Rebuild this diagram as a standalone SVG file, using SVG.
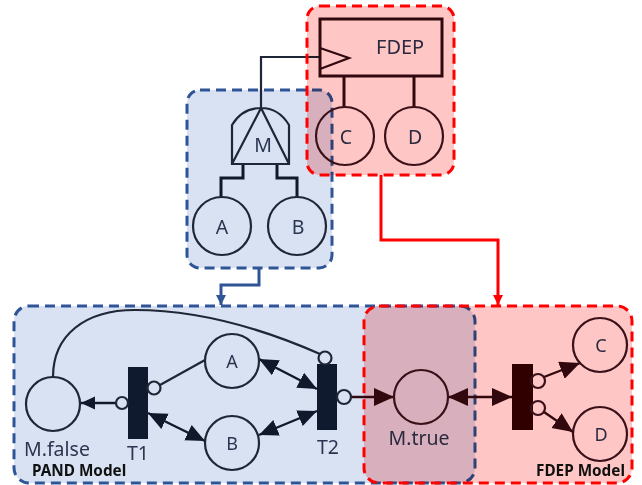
<svg xmlns="http://www.w3.org/2000/svg" width="642" height="485" viewBox="0 0 642 485">
<style>
text{font-family:"Noto Sans","Open Sans","DejaVu Sans",sans-serif;fill:#2b3550;font-size:18px}
.c{text-anchor:middle}
.big{font-size:19.5px}
.bold{font-weight:700;font-size:15.3px;fill:#101010}
.n{fill:none;stroke:#1f2636;stroke-width:2.2}
.r{fill:none;stroke:#3a1520;stroke-width:2.2}
.th{fill:none;stroke:#10192b;stroke-width:3;stroke-linejoin:miter}
.rth{fill:none;stroke:#300a10;stroke-width:3;stroke-linejoin:miter}
.rthin{fill:none;stroke:#300a10;stroke-width:2.2}
.bar{fill:#0f1a2e}
.bz{fill:#d8e2f2;stroke:#2f5597;stroke-width:3;stroke-dasharray:10 6}
.rz{fill:#ffc6c6;stroke:none;mix-blend-mode:multiply}
.rs{fill:none;stroke:#ff0000;stroke-width:3;stroke-dasharray:10 6}
.a{fill:none;stroke:#10192b;stroke-width:2.4}
.ra{fill:none;stroke:#300a10;stroke-width:2.4}
.abb{marker-start:url(#h);marker-end:url(#h)}
.rab{marker-end:url(#rd)}
.rabb{marker-start:url(#rd);marker-end:url(#rd)}
</style>
<defs>
<marker id="h" markerUnits="userSpaceOnUse" markerWidth="22" markerHeight="20" refX="19" refY="8.5" orient="auto-start-reverse"><path d="M0 0L19 8.5L0 17Z" fill="#10192b"/></marker>
<marker id="rd" markerUnits="userSpaceOnUse" markerWidth="22" markerHeight="20" refX="20" refY="9" orient="auto-start-reverse"><path d="M0 0L20 9L0 18Z" fill="#300a10"/></marker>
<marker id="s" markerUnits="userSpaceOnUse" markerWidth="16" markerHeight="14" refX="14" refY="6.5" orient="auto"><path d="M0 0L14 6.5L0 13Z" fill="#10192b"/></marker>
<marker id="bh" markerUnits="userSpaceOnUse" markerWidth="12" markerHeight="12" refX="10" refY="5" orient="auto"><path d="M0 0L10 5L0 10Z" fill="#2f5597"/></marker>
<marker id="rh" markerUnits="userSpaceOnUse" markerWidth="12" markerHeight="12" refX="10" refY="5" orient="auto"><path d="M0 0L10 5L0 10Z" fill="#ff0000"/></marker>
</defs>
<g id="pand-fault-tree-zone"><rect class="bz" x="187" y="90" width="145" height="178" rx="13"/></g>
<g id="pand-model-zone"><rect class="bz" x="14" y="306" width="461" height="177" rx="15"/>
<text class="bold" x="32" y="476">PAND Model</text></g>
<g id="connectors">
<path class="n" d="M320 57H261V108"/>
<path class="th" d="M243 164V178H221V197M277 164V178H297V197"/>
<path class="rth" d="M344 76V108M414 76V108"/>
<path d="M259 268V285H221V305" fill="none" stroke="#2f5597" stroke-width="3" marker-end="url(#bh)"/>
<path d="M381 175V240H498V305" fill="none" stroke="#ff0000" stroke-width="3" marker-end="url(#rh)"/>
<path class="n" d="M53 377C53 335 85 310 135 310C205 310 270 332 320 354"/>
<path class="n" d="M205 360L160 385"/>
<path class="a" d="M116 403H81" marker-end="url(#s)"/>
<path class="a abb" d="M148 413L205 441"/>
<path class="a abb" d="M259 359L317 389"/>
<path class="a abb" d="M259 435L317 411"/>
<path class="ra rab" d="M351 397H394"/>
<path class="ra rabb" d="M448 397H512"/>
<path class="ra rab" d="M544 377L580 363"/>
<path class="ra rab" d="M544 412L573 432"/>
</g>
<g id="gate-M"><path class="n" d="M232 164V125C238 115 248 108 261 108C274 108 283 115 289 125V164ZM232 164L261 108L289 164"/><text class="c big" x="263" y="152">M</text></g>
<g id="ft-A"><circle class="n" cx="222" cy="226" r="29"/><text class="c big" x="222" y="234">A</text></g>
<g id="ft-B"><circle class="n" cx="297" cy="226" r="29"/><text class="c big" x="298" y="234">B</text></g>
<g id="place-M-false"><circle class="n" cx="53" cy="404" r="27"/><text class="big" x="24" y="456">M.false</text></g>
<g id="transition-T1"><rect class="bar" x="128" y="367" width="20" height="72"/><circle class="n" cx="154" cy="388" r="6.5"/><circle class="n" cx="122" cy="403" r="6"/><text class="c big" x="138" y="460">T1</text></g>
<g id="place-A"><circle class="n" cx="232" cy="361" r="27"/><text class="c" x="232" y="368">A</text></g>
<g id="place-B"><circle class="n" cx="232" cy="443" r="27"/><text class="c" x="232" y="450">B</text></g>
<g id="transition-T2"><rect class="bar" x="317" y="364" width="20" height="66"/><circle class="n" cx="325" cy="358" r="6.5"/><circle class="n" cx="344" cy="397" r="7"/><text class="c big" x="328" y="454">T2</text></g>
<g id="place-M-true"><circle class="r" cx="421" cy="397" r="27"/><text class="c big" x="419" y="445">M.true</text></g>
<g id="fdep-gate"><path class="rth" d="M320 19H442V76H320Z"/><path class="rthin" d="M320 48L349 58L320 69"/><text x="376" y="54" style="font-size:20px">FDEP</text></g>
<g id="ft-C"><circle class="r" cx="345" cy="136" r="29"/><text class="c big" x="346" y="144">C</text></g>
<g id="ft-D"><circle class="r" cx="414" cy="136" r="29"/><text class="c big" x="415" y="144">D</text></g>
<g id="fdep-transition"><rect x="512" y="364" width="21" height="66" fill="#300000"/><circle class="r" cx="538" cy="381" r="7"/><circle class="r" cx="538" cy="408" r="7"/></g>
<g id="place-C"><circle class="r" cx="600" cy="345" r="27"/><text class="c" x="601" y="352">C</text></g>
<g id="place-D"><circle class="r" cx="600" cy="434" r="27"/><text class="c" x="601" y="441">D</text></g>
<g id="fdep-model-zone"><rect class="rz" x="364" y="306" width="268" height="177" rx="15"/><rect class="rs" x="364" y="306" width="268" height="177" rx="15"/>
<text class="bold" x="536" y="476">FDEP Model</text></g>
<g id="fdep-fault-tree-zone"><rect class="rz" x="307" y="6" width="147" height="169" rx="13"/><rect class="rs" x="307" y="6" width="147" height="169" rx="13"/></g>
</svg>
